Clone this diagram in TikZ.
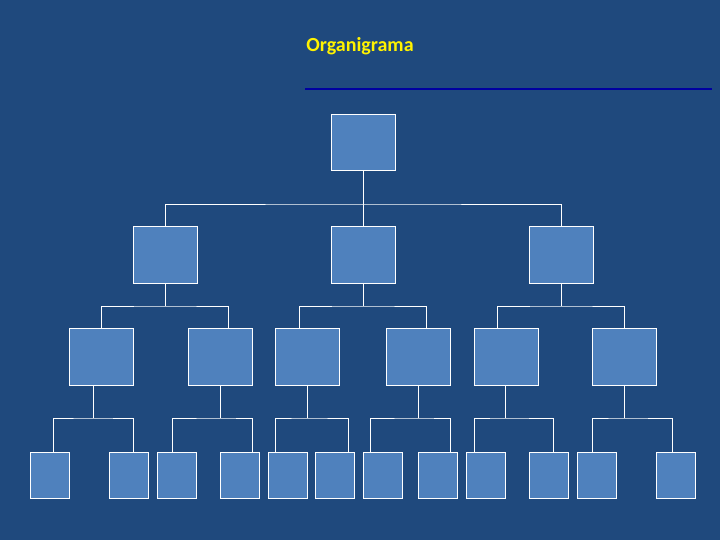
\documentclass[tikz,border=0pt]{standalone}
\usepackage{fontspec}
\setmainfont{Carlito}
\usepackage{tikz}
\usetikzlibrary{positioning,calc}
\definecolor{fondo}{HTML}{1F497D}
\definecolor{caja}{HTML}{4F81BD}
\definecolor{raya}{HTML}{0000A0}
\tikzset{
  caja/.style={draw=white,fill=caja,line width=0.9pt,anchor=north west,inner sep=0pt},
  conn/.style={draw=white,line width=0.9pt}
}
\begin{document}
\begin{tikzpicture}[x=1pt,y=-1pt]
\fill[fondo] (0,0) rectangle (720,540);
\useasboundingbox (0,0) rectangle (720,540);
%Titel
\node[text=yellow,font=\bfseries\fontsize{20}{24}\selectfont] (titulo) at (360,46) {Organigrama};
\draw[raya,line width=2.5pt] (305,89) -- (712,89);
%Ebene 1 und 2
\node[caja,minimum width=64pt,minimum height=56pt] (jefe) at (331,114) {};
\foreach \x/\n in {133/a,331/b,529/c}
  \node[caja,minimum width=64pt,minimum height=57pt] (L2\n) at (\x,226) {};
%Ebene 3
\foreach \x/\n in {69/a,188/b,275/c,386/d,474/e,592/f}
  \node[caja,minimum width=64pt,minimum height=57pt] (L3\n) at (\x,328) {};
%Ebene 4
\foreach \x/\n in {30/a,109/b,157/c,220/d,268/e,315/f,363/g,418/h,466/i,529/j,577/k,656/l}
  \node[caja,minimum width=39pt,minimum height=46pt] (L4\n) at (\x,452) {};
%Linien
\draw[conn] (jefe.south) -- (L2b.north);
\draw[conn] (L2a.north) |- (jefe |- 0,204) -| (L2c.north);
\foreach \p/\l/\r/\lx/\rx in {a/a/b/101/228,b/c/d/299/426,c/e/f/497/624}
  \draw[conn] (L3\l.north -| \lx,0) |- (L2\p.south |- 0,306) -| (L3\r.north -| \rx,0)
              (L2\p.south) -- (L2\p.south |- 0,306);
\foreach \p/\vx/\l/\r/\lx/\rx in {a/93/a/b/53/133,b/220/c/d/172/252,c/307/e/f/275/348,
                                  d/418/g/h/370/450,e/505/i/j/474/553,f/624/k/l/592/672}
  \draw[conn] (L4\l.north -| \lx,0) |- (\vx,418) -| (L4\r.north -| \rx,0)
              (L3\p.south -| \vx,0) -- (\vx,418);
\end{tikzpicture}
\end{document}
